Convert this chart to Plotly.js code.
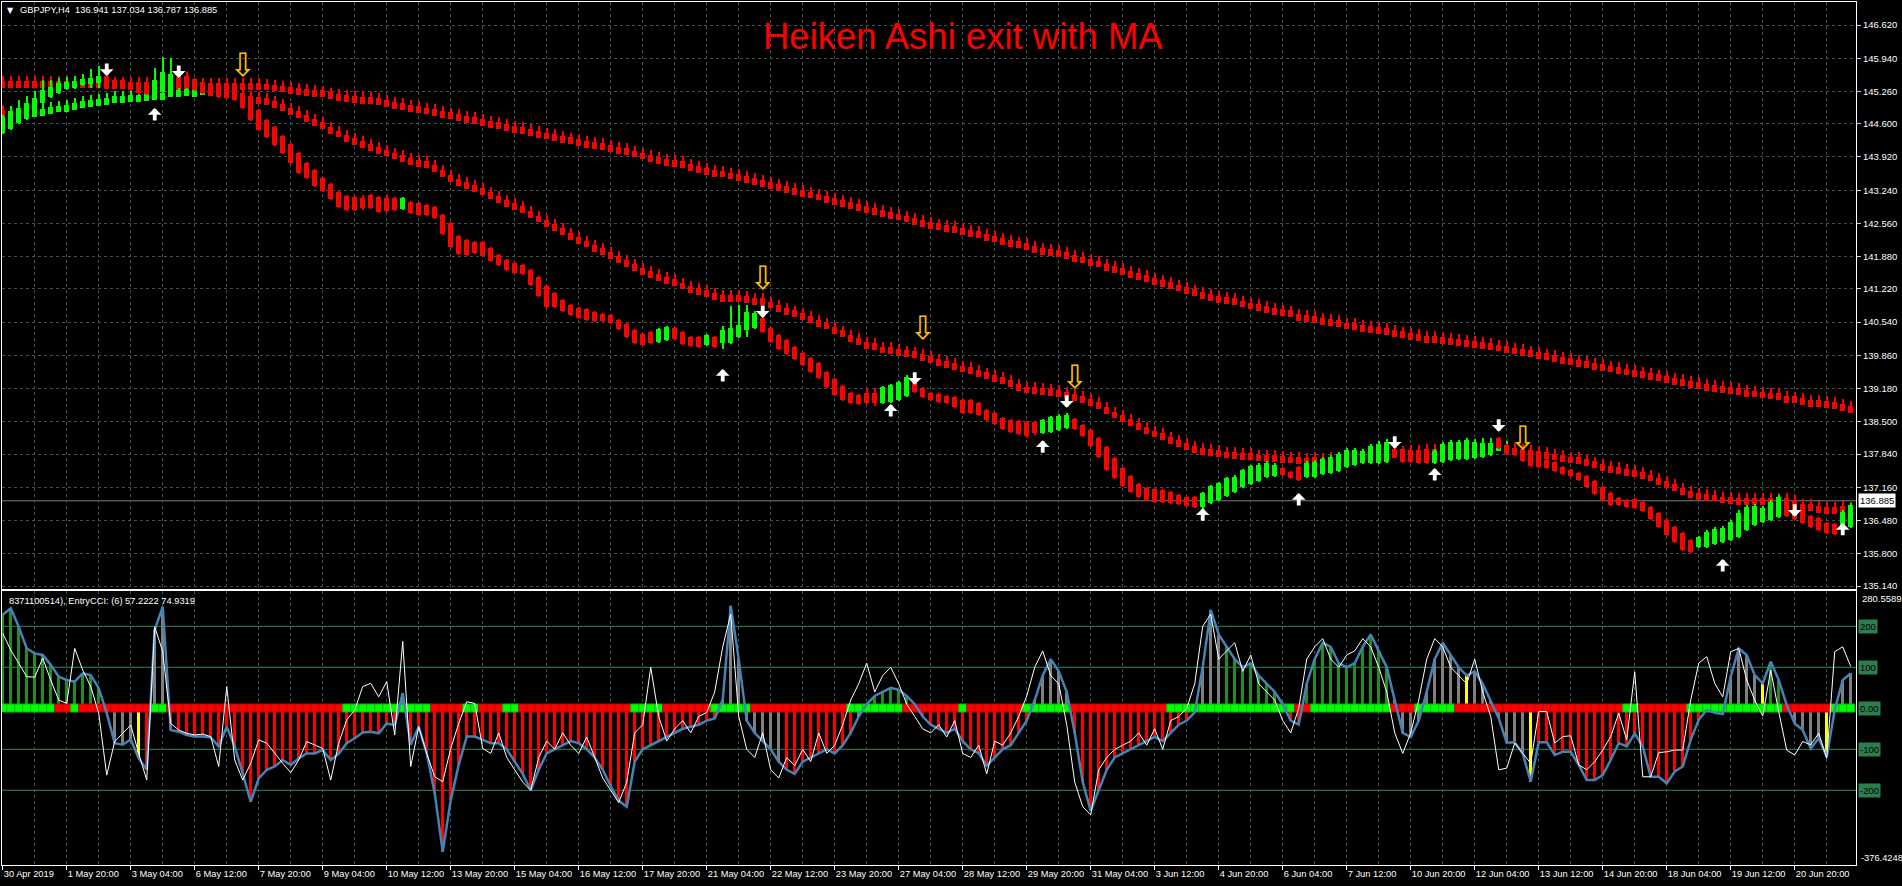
<!DOCTYPE html>
<html><head><meta charset="utf-8">
<script src="https://cdn.plot.ly/plotly-3.0.1.min.js"></script>
<style>html,body{margin:0;padding:0;background:#000;overflow:hidden}#chart{width:1902px;height:886px}</style>
</head><body><div id="chart"></div>
<script>
// ---------------- DATA ----------------
const symbolInfo = "GBPJPY,H4  136.941 137.034 136.787 136.885";
const lastClose = 136.885;
const chartTitle = "Heiken Ashi exit with MA";
const cciInfo = "8371100514), EntryCCI: (6) 57.2222 74.9319";
const cciMax = 280.5589, cciMin = -376.4248;
const cciLevels = [200, 100, 0, -100, -200];

const dateLabels = ["30 Apr 2019","1 May 20:00","3 May 04:00","6 May 12:00","7 May 20:00","9 May 04:00","10 May 12:00","13 May 20:00","15 May 04:00","16 May 12:00","17 May 20:00","21 May 04:00","22 May 12:00","23 May 20:00","27 May 04:00","28 May 12:00","29 May 20:00","31 May 04:00","3 Jun 12:00","4 Jun 20:00","6 Jun 04:00","7 Jun 12:00","10 Jun 20:00","12 Jun 04:00","13 Jun 12:00","14 Jun 20:00","18 Jun 04:00","19 Jun 12:00","20 Jun 20:00"];
const labelBars = [0,8,16,24,32,40,48,56,64,72,80,88,96,104,112,120,128,136,144,152,160,168,176,184,192,200,208,216,224];
const priceTicks = [146.620,145.940,145.260,144.600,143.920,143.240,142.560,141.880,141.220,140.540,139.860,139.180,138.500,137.840,137.160,136.480,135.800,135.140];

const haOpen = [
144.41,144.49,144.61,144.70,144.86,145.02,145.15,145.23,145.31,145.33,
145.39,145.41,145.43,145.58,145.50,145.50,145.45,145.41,145.37,145.23,
145.25,145.25,145.56,145.58,145.52,145.45,145.33,145.33,145.33,145.29,
145.19,145.04,144.88,144.68,144.53,144.35,144.19,144.00,143.80,143.65,
143.49,143.37,143.20,143.12,143.10,143.08,143.14,143.10,143.08,143.08,
142.86,143.00,142.98,142.94,142.90,142.73,142.57,142.30,142.22,142.18,
142.18,142.05,141.91,141.81,141.75,141.71,141.61,141.46,141.28,141.14,
140.99,140.89,140.83,140.81,140.75,140.71,140.69,140.58,140.50,140.38,
140.30,140.34,140.13,140.18,140.42,140.34,140.24,140.24,140.07,140.24,
140.11,140.11,140.24,140.38,140.42,140.62,140.42,140.28,140.17,140.03,
139.91,139.81,139.70,139.52,139.38,139.23,139.09,139.05,139.09,139.09,
138.89,138.91,138.95,139.03,139.30,139.19,139.09,139.07,139.03,139.01,
138.95,138.95,138.89,138.74,138.68,138.58,138.54,138.52,138.50,138.50,
138.27,138.29,138.33,138.37,138.56,138.44,138.33,138.17,137.99,137.76,
137.56,137.39,137.23,137.15,137.13,137.11,137.06,137.00,136.96,136.96,
136.76,136.84,136.90,136.98,137.06,137.17,137.23,137.29,137.37,137.39,
137.56,137.47,137.58,137.37,137.37,137.43,137.45,137.49,137.58,137.62,
137.66,137.66,137.66,137.68,137.94,137.94,137.88,137.86,137.86,137.66,
137.68,137.72,137.74,137.74,137.76,137.78,137.82,138.17,138.03,137.97,
137.88,137.78,137.76,137.72,137.68,137.58,137.51,137.45,137.39,137.29,
137.17,137.04,136.94,136.90,136.92,136.86,136.76,136.64,136.49,136.35,
136.22,136.08,135.94,135.94,136.00,136.04,136.08,136.14,136.29,136.39,
136.45,136.49,136.55,136.94,136.80,136.70,136.57,136.53,136.43,136.41,
136.35,136.35];
const haClose = [
144.74,144.74,144.92,145.02,145.13,145.29,145.35,145.43,145.45,145.47,
145.52,145.54,145.58,145.45,145.35,145.33,145.29,145.23,145.21,145.49,
145.66,145.62,145.37,145.35,145.29,145.23,145.19,145.15,145.13,145.09,
144.92,144.68,144.47,144.33,144.17,144.00,143.80,143.59,143.49,143.33,
143.22,143.06,142.90,142.83,142.83,142.88,142.88,142.79,142.81,142.83,
143.08,142.77,142.73,142.73,142.67,142.34,142.08,141.93,141.91,141.95,
141.89,141.79,141.71,141.61,141.55,141.53,141.30,141.07,140.85,140.85,
140.77,140.69,140.62,140.58,140.56,140.56,140.52,140.40,140.24,140.11,
140.07,140.11,140.40,140.44,140.20,140.09,140.05,140.03,140.28,140.03,
140.38,140.42,140.48,140.75,140.73,140.34,140.13,139.99,139.89,139.79,
139.66,139.52,139.40,139.21,139.05,138.95,138.89,138.87,138.89,138.89,
139.21,139.25,139.32,139.42,139.11,139.01,138.95,138.91,138.89,138.80,
138.68,138.68,138.64,138.54,138.46,138.35,138.29,138.25,138.21,138.27,
138.54,138.60,138.62,138.64,138.35,138.21,138.01,137.78,137.51,137.35,
137.19,137.06,136.96,136.90,136.86,136.86,136.84,136.82,136.78,136.76,
137.04,137.19,137.25,137.35,137.37,137.51,137.60,137.62,137.66,137.62,
137.41,137.35,137.31,137.66,137.68,137.74,137.78,137.84,137.92,137.92,
137.90,138.01,138.05,138.09,137.82,137.68,137.68,137.66,137.66,137.90,
138.05,138.09,138.09,138.13,138.09,137.94,138.03,137.97,137.84,137.82,
137.70,137.60,137.58,137.56,137.49,137.43,137.39,137.31,137.17,137.02,
136.90,136.80,136.80,136.76,136.74,136.67,136.51,136.35,136.18,136.04,
135.88,135.84,136.14,136.25,136.31,136.33,136.45,136.64,136.76,136.78,
136.74,136.86,136.96,136.57,136.51,136.43,136.35,136.29,136.23,136.21,
136.66,136.80];
const haHigh = [
144.78,144.94,145.09,145.17,145.27,145.50,145.50,145.54,145.56,145.58,
145.62,145.72,145.78,145.60,145.52,145.52,145.47,145.45,145.40,145.74,
145.97,145.95,145.58,145.66,145.54,145.47,145.35,145.35,145.35,145.31,
145.21,145.06,144.90,144.70,144.55,144.37,144.21,144.02,143.82,143.67,
143.51,143.39,143.22,143.14,143.12,143.14,143.16,143.12,143.14,143.10,
143.10,143.02,143.00,142.96,142.92,142.75,142.59,142.32,142.24,142.20,
142.20,142.07,141.93,141.83,141.77,141.73,141.63,141.48,141.30,141.16,
141.01,140.91,140.85,140.83,140.77,140.73,140.71,140.60,140.52,140.40,
140.32,140.36,140.42,140.46,140.44,140.36,140.26,140.26,140.30,140.26,
140.46,140.87,140.89,140.89,140.77,140.66,140.44,140.30,140.19,140.05,
139.93,139.83,139.72,139.54,139.40,139.25,139.11,139.07,139.19,139.19,
139.23,139.27,139.34,139.46,139.50,139.21,139.11,139.09,139.05,139.03,
138.97,138.97,138.91,138.76,138.70,138.60,138.56,138.54,138.52,138.52,
138.56,138.62,138.66,138.68,138.58,138.46,138.35,138.19,138.01,137.78,
137.58,137.41,137.25,137.17,137.15,137.13,137.08,137.02,136.98,136.98,
137.06,137.21,137.27,137.37,137.41,137.53,137.62,137.66,137.70,137.66,
137.58,137.49,137.60,137.70,137.72,137.78,137.82,137.88,137.96,137.96,
137.94,138.05,138.11,138.15,137.96,137.96,137.90,137.88,137.88,137.94,
138.09,138.13,138.13,138.17,138.13,138.01,138.07,138.19,138.05,137.99,
137.90,137.80,137.78,137.74,137.70,137.60,137.53,137.47,137.41,137.31,
137.19,137.06,136.96,136.92,136.94,136.88,136.78,136.66,136.51,136.37,
136.24,136.10,136.16,136.29,136.35,136.37,136.49,136.70,136.80,136.82,
136.78,136.90,137.00,136.96,136.82,136.72,136.59,136.55,136.45,136.43,
136.70,136.84];
const haLow = [
144.39,144.47,144.59,144.68,144.74,145.00,145.13,145.21,145.29,145.31,
145.37,145.33,145.33,145.43,145.33,145.31,145.27,145.21,145.19,145.09,
145.09,145.15,145.33,145.33,145.27,145.21,145.17,145.13,145.11,145.07,
144.90,144.66,144.45,144.31,144.15,143.98,143.78,143.57,143.47,143.31,
143.20,143.04,142.88,142.81,142.81,142.83,142.86,142.77,142.79,142.81,
142.83,142.75,142.71,142.71,142.65,142.32,142.06,141.91,141.89,141.93,
141.87,141.77,141.69,141.59,141.53,141.51,141.28,141.05,140.83,140.83,
140.75,140.67,140.60,140.56,140.54,140.54,140.50,140.38,140.22,140.09,
140.05,140.09,140.11,140.16,140.18,140.07,140.03,140.01,140.05,140.01,
139.99,140.09,140.22,140.24,140.40,140.32,140.11,139.97,139.87,139.77,
139.64,139.50,139.38,139.19,139.03,138.93,138.87,138.85,138.87,138.82,
138.87,138.89,138.93,139.01,139.09,138.99,138.93,138.89,138.87,138.78,
138.66,138.66,138.62,138.52,138.44,138.33,138.27,138.23,138.17,138.23,
138.25,138.27,138.31,138.35,138.33,138.19,137.99,137.76,137.49,137.33,
137.17,137.04,136.94,136.88,136.84,136.84,136.82,136.80,136.76,136.74,
136.70,136.82,136.88,136.96,137.04,137.15,137.21,137.27,137.35,137.37,
137.39,137.33,137.29,137.35,137.35,137.41,137.43,137.47,137.56,137.60,
137.64,137.64,137.64,137.66,137.80,137.66,137.66,137.64,137.64,137.64,
137.66,137.70,137.72,137.72,137.74,137.76,137.80,137.95,137.82,137.80,
137.68,137.58,137.56,137.54,137.47,137.41,137.37,137.29,137.15,137.00,
136.88,136.78,136.78,136.74,136.72,136.65,136.49,136.33,136.16,136.02,
135.86,135.82,135.92,135.92,135.98,136.02,136.06,136.12,136.27,136.37,
136.43,136.47,136.53,136.55,136.49,136.41,136.33,136.27,136.21,136.19,
136.33,136.33];

const maSlow = [
145.33,145.33,145.33,145.33,145.33,145.33,145.33,145.33,145.33,145.33,
145.33,145.33,145.33,145.32,145.32,145.32,145.32,145.31,145.31,145.31,
145.31,145.31,145.30,145.30,145.30,145.30,145.29,145.29,145.29,145.29,
145.29,145.29,145.29,145.28,145.26,145.24,145.21,145.19,145.17,145.15,
145.14,145.10,145.07,145.05,145.03,145.00,145.00,144.98,144.94,144.91,
144.88,144.85,144.82,144.79,144.76,144.72,144.69,144.66,144.62,144.59,
144.55,144.52,144.49,144.45,144.42,144.39,144.35,144.31,144.28,144.25,
144.21,144.18,144.14,144.11,144.08,144.06,144.03,143.99,143.96,143.91,
143.87,143.82,143.78,143.74,143.72,143.69,143.64,143.60,143.55,143.51,
143.50,143.46,143.43,143.39,143.35,143.31,143.27,143.23,143.19,143.15,
143.11,143.07,143.03,142.98,142.94,142.90,142.86,142.82,142.78,142.74,
142.70,142.66,142.62,142.58,142.53,142.49,142.45,142.42,142.39,142.37,
142.32,142.29,142.26,142.21,142.17,142.12,142.08,142.05,142.02,141.96,
141.91,141.89,141.87,141.83,141.78,141.74,141.69,141.66,141.59,141.55,
141.50,141.45,141.40,141.36,141.31,141.26,141.22,141.17,141.12,141.07,
141.02,140.97,140.94,140.91,140.89,140.84,140.80,140.77,140.73,140.69,
140.66,140.64,140.57,140.55,140.53,140.48,140.46,140.45,140.39,140.38,
140.34,140.32,140.30,140.28,140.24,140.21,140.17,140.16,140.12,140.11,
140.09,140.07,140.05,140.04,140.02,140.00,139.97,139.94,139.91,139.88,
139.85,139.82,139.79,139.76,139.73,139.69,139.66,139.63,139.60,139.57,
139.54,139.51,139.48,139.45,139.42,139.39,139.36,139.33,139.30,139.26,
139.23,139.20,139.17,139.14,139.12,139.10,139.07,139.05,139.01,139.00,
138.98,138.96,138.95,138.89,138.88,138.84,138.81,138.80,138.78,138.76,
138.73,138.69];
const maMid = [
144.74,144.72,144.72,144.72,144.73,144.76,144.80,144.83,144.85,144.89,
144.92,144.95,144.97,144.98,145.02,145.03,145.05,145.05,145.07,145.09,
145.09,145.14,145.14,145.17,145.15,145.19,145.17,145.15,145.13,145.11,
145.09,145.02,145.00,144.98,144.92,144.87,144.78,144.72,144.64,144.55,
144.49,144.39,144.32,144.23,144.16,144.11,144.05,143.99,143.93,143.87,
143.82,143.76,143.72,143.69,143.62,143.52,143.41,143.33,143.26,143.21,
143.14,143.06,142.98,142.90,142.83,142.78,142.68,142.58,142.49,142.41,
142.32,142.22,142.14,142.07,141.98,141.91,141.83,141.76,141.67,141.59,
141.50,141.45,141.38,141.33,141.28,141.21,141.14,141.10,141.06,140.99,
140.96,140.96,140.96,140.93,140.89,140.89,140.82,140.75,140.69,140.64,
140.58,140.53,140.45,140.39,140.30,140.23,140.14,140.07,140.00,139.98,
139.90,139.89,139.85,139.82,139.80,139.75,139.70,139.64,139.60,139.56,
139.51,139.48,139.42,139.37,139.32,139.27,139.22,139.14,139.08,139.07,
139.05,139.03,139.01,138.98,138.93,138.89,138.82,138.76,138.67,138.57,
138.50,138.41,138.33,138.26,138.18,138.13,138.05,137.99,137.92,137.87,
137.82,137.80,137.79,137.75,137.74,137.72,137.72,137.69,137.68,137.68,
137.66,137.65,137.64,137.62,137.64,137.62,137.64,137.64,137.65,137.66,
137.68,137.70,137.72,137.74,137.76,137.77,137.78,137.79,137.80,137.81,
137.82,137.84,137.86,137.88,137.90,137.92,137.92,137.90,137.86,137.82,
137.80,137.79,137.76,137.74,137.71,137.68,137.65,137.64,137.60,137.55,
137.50,137.46,137.44,137.40,137.37,137.33,137.28,137.21,137.15,137.08,
137.01,136.94,136.90,136.89,136.87,136.83,136.82,136.80,136.80,136.80,
136.80,136.80,136.80,136.80,136.76,136.68,136.68,136.63,136.62,136.62,
136.63,136.62];
const maMidDir = ("RGGGGGGGGG GGGGGGGGGG GGGGGGRRRR RRRRRRRRRR RRRRRRRRRR RRRRRRRRRR RRRRRRRRRR " +
 "RRRRRRRRRR RRRRRRRRRR RRRRRRRRRR RRRRRRRRRR RRRRRRRRRR RRRRRRRRRR RRRRRRRRRR RRRRRRRRRR " +
 "RRRRRRRRRR RRRRRRRRRR RRRRRRRRRR RRRRGGGGGR RRRRRRRRRR RRRRRRRRRR RRRRRRRRRR RRRRRRRRRR RR").replace(/ /g,'');

const downIdx = [13,22,95,114,133,174,187,224];
const downPrice = [145.72,145.68,140.77,139.40,138.93,138.09,138.44,136.70];
const upIdx = [19,90,111,130,150,162,179,215,230];
const upPrice = [144.78,139.44,138.72,137.98,136.59,136.90,137.41,135.55,136.29];
const exitIdx = [30,95,115,134,190];
const exitPrice = [145.75,141.38,140.36,139.36,138.11];

const cciBlue = [
228,244,199,146,134,130,106,77,69,65,
85,81,49,-12,-85,-89,-76,-122,-150,191,
248,-53,-57,-65,-69,-69,-71,-93,-45,-93,
-159,-228,-171,-150,-142,-126,-138,-122,-110,-110,
-102,-126,-111,-85,-73,-59,-57,-61,-37,-41,
37,-89,-45,-110,-207,-350,-224,-138,-69,-69,
-77,-85,-85,-100,-130,-160,-200,-150,-110,-100,
-90,-80,-85,-100,-120,-150,-190,-225,-240,-130,
-100,-90,-80,-70,-60,-50,-45,-40,-30,-25,
20,250,120,-30,-60,-80,-100,-130,-150,-160,
-130,-120,-110,-100,-110,-90,-60,-20,10,30,
40,50,45,30,10,-20,-40,-50,-60,-50,
-80,-100,-110,-140,-120,-100,-90,-60,-30,20,
80,120,90,40,-60,-180,-250,-200,-150,-120,
-110,-100,-90,-80,-70,-80,-60,-40,-30,-10,
100,240,180,150,120,100,110,80,60,40,
10,-30,-40,60,120,160,150,110,100,110,
150,180,140,100,20,-60,-70,-30,40,120,
160,130,100,80,90,60,20,-24,-84,-83,
-110,-179,-83,-83,-114,-106,-106,-138,-175,-175,
-163,-126,-85,-93,-61,-93,-167,-167,-183,-154,
-142,-77,-28,-4,-11,-14,77,146,130,81,
61,114,69,8,-37,-53,-98,-73,-118,-4,
69,85];
const cciWhite = [
183,142,110,77,76,122,69,20,12,146,
93,53,-12,-163,-81,-61,-41,-110,-175,199,
138,-37,-53,-61,-65,-63,-69,-142,53,-126,
-175,-134,-77,-85,-110,-134,-157,-126,-81,-89,
-98,-175,-85,-28,-4,53,61,28,65,-65,
163,-142,-45,-110,-167,-179,-98,-37,16,12,
-98,-110,-60,-120,-150,-180,-200,-120,-80,-100,
-60,-90,-110,-70,-120,-170,-200,-230,-180,-60,
-40,100,-20,-80,-50,-30,-60,-20,-10,40,
150,230,-20,-100,-120,-60,-150,-170,-120,-140,
-100,-130,-60,-110,-90,-40,20,60,110,40,
80,100,60,10,-20,-50,-60,-40,-70,-30,
-110,-120,-90,-160,-80,-90,-60,-20,30,100,
140,80,60,-40,-180,-240,-260,-150,-120,-100,
-90,-80,-60,-90,-50,-100,-30,-20,0,60,
200,230,120,140,160,90,130,60,40,20,
-30,-60,0,120,150,170,120,100,130,140,
170,150,100,40,-60,-110,-60,20,120,170,
150,100,80,60,120,40,-20,-150,-146,-85,
-110,-134,-8,-8,-85,-69,-67,-138,-150,-130,
-102,-69,-12,-77,89,-167,-167,-108,-106,-102,
-102,20,110,126,61,28,138,146,69,20,
-19,93,-8,-102,-114,-81,-89,-61,-122,138,
150,102];
// G = green, R = red, A = grey, Y = yellow
const histState = ("GGGGGGGGGG GGGAAAAYRA ARRRRRRRRR RRRRRRRRRR RRRRRRRRRR ARRRRRRRRR RRRRRRRRRR RRRRRRRRRR " +
 "RRRRRRRRRR AAAAAAAARR RRRRRRRAAG GGGGRRRRRR RRRRRRRRRA AAAARRRRRR RRRRRRRRRR AAAGGGGGGG " +
 "GRRGGGGGGG GGGGAAAAAA AAAYAAAAAA AYRRRRRRRR RRRRRRRRRR RRRRRRAAAA YGGAAAAAYR AA").replace(/ /g,'');
const signalState = ("GGGGGGGRRG RRRRRRRRRG GRRRRRRRRR RRRRRRRRRR RRRGGGGGGG GGGGRRRRGG RRRGGRRRRR RRRRRRRRRG " +
 "GGGRRRRRRG GGGGRRRRRR RRRRRRGGGG GGGRRRRRRR GRRRRRRRGG GGGGRRRRRR RRRRRRGGGG GGGGGGGGGG " +
 "GGRRGGGGGG GGGGRRRGGG GGRRRRRRRR RRRRRRRRRR RRRGGRRRRR RGGGGGGGGG GGGRRRRRRG GG").replace(/ /g,'');

// ---------------- LAYOUT GEOMETRY ----------------
const W = 1902, H = 886, ML = 2, MR = 46, MT = 2, MB = 21;
const PW = W - ML - MR, PH = H - MT - MB;
const px = x => (x - ML) / PW;
const py = y => (H - MB - y) / PH;
const MAIN_BOTTOM = 589, SUB_TOP = 591;

const RED = '#FF0000', LIME = '#00FF00';
const idx = haOpen.map((_, i) => i);
const FONT = 'Liberation Sans, Arial, sans-serif';

const traces = [];
const MA_BODY = 0.14, MA_WICK = 0.24;
function maTraces(vals, colors) {
  traces.push({type:'bar', x:idx, base:vals, y:vals.map(() => MA_WICK), width:0.22,
    marker:{color:colors, line:{width:0}}, xaxis:'x', yaxis:'y', hoverinfo:'skip'});
  traces.push({type:'bar', x:idx, base:vals, y:vals.map(() => MA_BODY), width:0.58,
    marker:{color:colors, line:{width:0}}, xaxis:'x', yaxis:'y', hoverinfo:'skip'});
}
maTraces(maSlow, maSlow.map(() => RED));
maTraces(maMid, maMidDir.split('').map(c => c === 'G' ? LIME : RED));

const haCol = idx.map(i => haClose[i] >= haOpen[i] ? LIME : RED);
traces.push({type:'bar', x:idx, base:haLow, y:idx.map(i => haHigh[i] - haLow[i]), width:0.22,
  marker:{color:haCol, line:{width:0}}, xaxis:'x', yaxis:'y', hoverinfo:'skip'});
traces.push({type:'bar', x:idx, base:idx.map(i => Math.min(haOpen[i], haClose[i])),
  y:idx.map(i => Math.max(Math.abs(haClose[i] - haOpen[i]), 0.025)), width:0.64,
  marker:{color:haCol, line:{width:0}}, xaxis:'x', yaxis:'y', hoverinfo:'skip'});

// yellow hollow exit arrows
traces.push({type:'scatter', mode:'text', x:exitIdx, y:exitPrice, text:exitIdx.map(() => '⇩'),
  textfont:{family:'DejaVu Sans', size:32, color:'#FFC000'}, textposition:'middle center',
  xaxis:'x', yaxis:'y', hoverinfo:'skip'});

// CCI sub-window
const histMap = {G:'#228B22', R:'#FF0000', A:'#808080', Y:'#FFFF00'};
traces.push({type:'bar', x:idx, y:cciBlue, width:0.34,
  marker:{color:histState.split('').map(c => histMap[c]), line:{width:0}},
  xaxis:'x2', yaxis:'y2', hoverinfo:'skip'});
const sig = signalState.split('');
traces.push({type:'bar', x:idx, base:idx.map(() => -9), y:idx.map(() => 19.5), width:1,
  marker:{color:sig.map(c => c === 'G' ? LIME : RED), line:{width:1, color:sig.map(c => c === 'G' ? '#00C000' : '#C00000')}},
  xaxis:'x2', yaxis:'y2', hoverinfo:'skip'});
traces.push({type:'scatter', mode:'lines', x:idx, y:cciBlue, line:{color:'#4682B4', width:2.5},
  xaxis:'x2', yaxis:'y2', hoverinfo:'skip'});
traces.push({type:'scatter', mode:'lines', x:idx, y:cciWhite, line:{color:'#FFFFFF', width:1},
  xaxis:'x2', yaxis:'y2', hoverinfo:'skip'});

const GRID = '#3a5252';
const xr = [-0.09, 231.66];
const yMain = [146.62 - (MAIN_BOTTOM - 25) / 48.87, 146.62 + (25 - MT) / 48.87];
const ySub = [(708.3 - (H - MB)) / 0.41, (708.3 - SUB_TOP) / 0.41];

const shapes = [];
cciLevels.filter(v => v !== 0).forEach(v => shapes.push({type:'line', xref:'x2 domain', x0:0, x1:1,
  yref:'y2', y0:v, y1:v, line:{color:'#2E8B57', width:1}, layer:'below'}));
shapes.push({type:'line', xref:'x domain', x0:0, x1:1, yref:'y', y0:lastClose, y1:lastClose,
  line:{color:'#6f8080', width:1}, layer:'below'});

const ann = [];
// white signal arrows (annotation arrows anchored at the data points)
const ARROW = {showarrow:true, text:'', arrowhead:1, arrowsize:0.6, arrowwidth:3.8, arrowcolor:'#FFFFFF',
  standoff:0, startstandoff:0, ax:0, xref:'x', yref:'y'};
downIdx.forEach((v, k) => ann.push(Object.assign({}, ARROW, {x:v, y:downPrice[k], yshift:-7, ay:-14})));
upIdx.forEach((v, k) => ann.push(Object.assign({}, ARROW, {x:v, y:upPrice[k], yshift:7, ay:14})));

ann.push({xref:'paper', yref:'paper', x:px(963), y:py(37), text:chartTitle, showarrow:false,
  font:{family:FONT, size:36.5, color:'#FF0000'}, xanchor:'center', yanchor:'middle'});
ann.push({xref:'paper', yref:'paper', x:px(10), y:py(10.5), text:'▼', showarrow:false,
  font:{family:'DejaVu Sans', size:8, color:'#FFFFFF'}, xanchor:'center', yanchor:'middle'});
ann.push({xref:'paper', yref:'paper', x:px(18), y:py(10.5), text:symbolInfo.replace(/ /g,'&nbsp;'), showarrow:false,
  font:{family:FONT, size:9.3, color:'#FFFFFF'}, xanchor:'left', yanchor:'middle'});
ann.push({xref:'paper', yref:'paper', x:px(7), y:py(600.7), text:cciInfo, showarrow:false,
  font:{family:FONT, size:9.3, color:'#FFFFFF'}, xanchor:'left', yanchor:'middle'});
ann.push({xref:'paper', yref:'y', x:1, xshift:2, y:lastClose, text:lastClose.toFixed(3), showarrow:false,
  bgcolor:'#FFFFFF', borderpad:1, font:{family:FONT, size:9.5, color:'#000000'}, xanchor:'left', yanchor:'middle'});
cciLevels.forEach(v => ann.push({xref:'paper', yref:'y2', x:1, xshift:2, y:v, text:v === 0 ? '0.00' : String(v),
  showarrow:false, bgcolor:'#2E7D4F', borderpad:1, font:{family:FONT, size:9.5, color:'#000000'}, xanchor:'left', yanchor:'middle'}));
ann.push({xref:'paper', yref:'paper', x:1, xshift:4, y:py(598), text:cciMax.toFixed(4), showarrow:false,
  font:{family:FONT, size:9.5, color:'#FFFFFF'}, xanchor:'left', yanchor:'middle'});
ann.push({xref:'paper', yref:'paper', x:1, xshift:3, y:py(858.3), text:cciMin.toFixed(4), showarrow:false,
  font:{family:FONT, size:9.3, color:'#FFFFFF'}, xanchor:'left', yanchor:'middle'});

const layout = {
  width:W, height:H, margin:{l:ML, r:MR, t:MT, b:MB}, paper_bgcolor:'#000', plot_bgcolor:'#000',
  showlegend:false, barmode:'overlay', bargap:0,
  font:{family:FONT, size:9.5, color:'#FFFFFF'},
  xaxis:{domain:[0,1], anchor:'y', range:xr, tickmode:'linear', tick0:0, dtick:4, showticklabels:false, ticks:'',
    showgrid:true, gridcolor:GRID, griddash:'3px,3px', gridwidth:1, zeroline:false,
    showline:true, mirror:true, linecolor:'#FFFFFF', linewidth:1},
  yaxis:{domain:[py(MAIN_BOTTOM),1], anchor:'x', range:yMain, side:'right', tickmode:'array', tickvals:priceTicks,
    ticktext:priceTicks.map(v => v.toFixed(3)), ticks:'outside', ticklen:4, tickcolor:'#cccccc',
    tickfont:{family:FONT, size:9.5, color:'#FFFFFF'},
    showgrid:true, gridcolor:GRID, griddash:'3px,3px', gridwidth:1, zeroline:false,
    showline:true, mirror:true, linecolor:'#FFFFFF', linewidth:1},
  xaxis2:{domain:[0,1], anchor:'y2', range:xr, tickmode:'array', tickvals:labelBars, ticktext:dateLabels,
    tickangle:0, automargin:false, ticklabelposition:'outside right', ticks:'outside', ticklen:4, tickcolor:'#FFFFFF',
    tickfont:{family:FONT, size:9.3, color:'#FFFFFF'},
    showgrid:true, gridcolor:GRID, griddash:'3px,3px', gridwidth:1, zeroline:false,
    minor:{tickmode:'linear', tick0:0, dtick:4, showgrid:true, gridcolor:GRID, griddash:'3px,3px', gridwidth:1, ticks:''},
    showline:true, mirror:true, linecolor:'#FFFFFF', linewidth:1},
  yaxis2:{domain:[0,py(SUB_TOP)], anchor:'x2', range:ySub, side:'right', showticklabels:false, ticks:'',
    showgrid:false, zeroline:false, showline:true, mirror:true, linecolor:'#FFFFFF', linewidth:1},
  shapes:shapes, annotations:ann
};
Plotly.newPlot('chart', traces, layout, {displayModeBar:false, staticPlot:true});
</script></body></html>
